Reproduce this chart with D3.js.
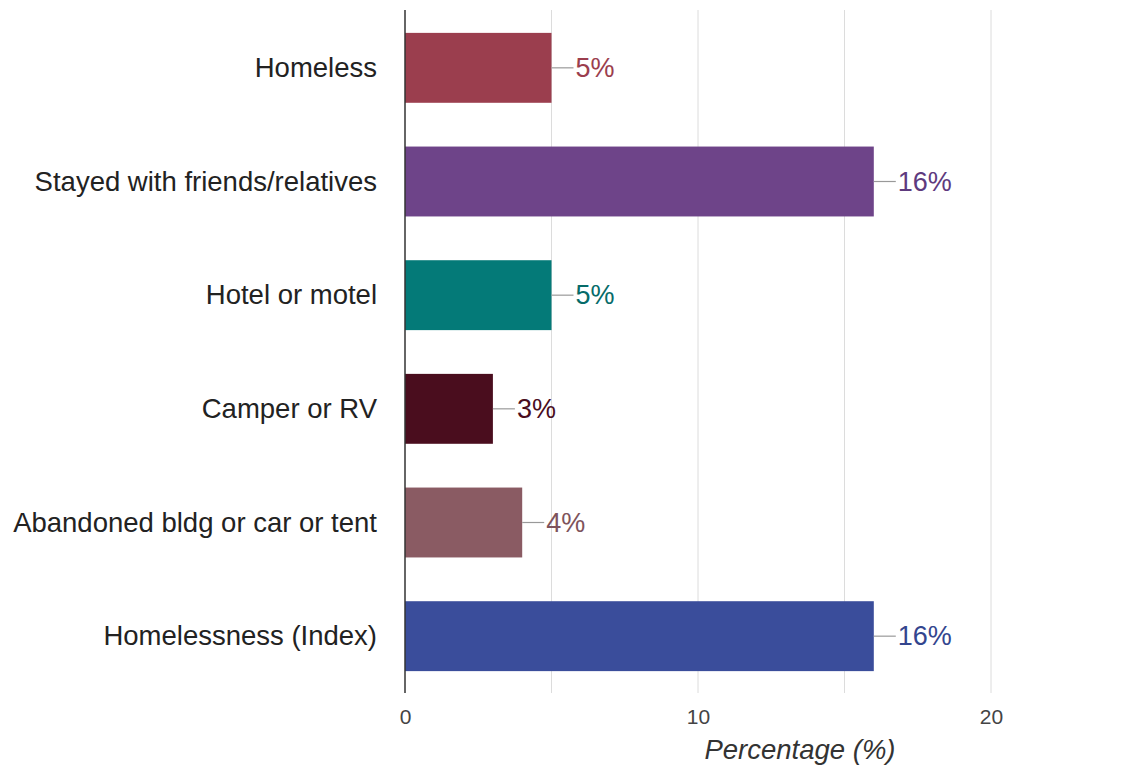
<!DOCTYPE html>
<html>
<head>
<meta charset="utf-8">
<script src="https://cdn.jsdelivr.net/npm/d3@7"></script>
<style>
  body { margin: 0; background: #fff; }
  text { font-family: "Liberation Sans", Arial, sans-serif; }
</style>
</head>
<body>
<div id="chart"></div>
<script>
const categories = ["Homeless", "Stayed with friends/relatives", "Hotel or motel", "Camper or RV",
                    "Abandoned bldg or car or tent", "Homelessness (Index)"];
const values = [5, 16, 5, 3, 4, 16];
const colors = ["#9b3e4e", "#6e4489", "#047a78", "#4a0d1e", "#8a5b63", "#3a4d9b"];
const labelColors = ["#9b3e4e", "#5e3a7e", "#066b69", "#4a0d1e", "#7e535b", "#33458e"];
const xTicks = [0, 10, 20];
const gridTicks = [5, 10, 15, 20];

const W = 1129, H = 769;
const svg = d3.select("#chart").append("svg")
    .attr("width", W)
    .attr("height", H);

const x = d3.scaleLinear().domain([0, 20]).range([405, 991]);
const y = d3.scaleBand().domain(categories).range([11, 693])
    .paddingInner(0.385).paddingOuter(0.1925);
const cy = i => y(categories[i]) + y.bandwidth() / 2;

// gridlines
svg.append("g")
  .selectAll("line")
  .data(gridTicks)
  .join("line")
    .attr("x1", d => x(d)).attr("x2", d => x(d))
    .attr("y1", 10).attr("y2", 693)
    .attr("stroke", "#dcdcdc")
    .attr("stroke-width", 1);

// bars
svg.append("g")
  .selectAll("rect")
  .data(values)
  .join("rect")
    .attr("x", x(0))
    .attr("y", (d, i) => y(categories[i]))
    .attr("width", d => x(d) - x(0))
    .attr("height", y.bandwidth())
    .attr("fill", (d, i) => colors[i]);

// leader lines + value labels
const lab = svg.append("g");
lab.selectAll("line")
  .data(values)
  .join("line")
    .attr("x1", d => x(d)).attr("x2", d => x(d) + 22)
    .attr("y1", (d, i) => cy(i))
    .attr("y2", (d, i) => cy(i))
    .attr("stroke", "#999")
    .attr("stroke-width", 1.2);

lab.selectAll("text")
  .data(values)
  .join("text")
    .attr("x", d => x(d) + 24)
    .attr("y", (d, i) => cy(i) + 9)
    .attr("font-size", 27)
    .attr("fill", (d, i) => labelColors[i])
    .text(d => d + "%");

// category labels
svg.append("g")
  .selectAll("text")
  .data(categories)
  .join("text")
    .attr("x", 377)
    .attr("y", (d, i) => cy(i) + 9)
    .attr("text-anchor", "end")
    .attr("font-size", 27.5)
    .attr("fill", "#222")
    .text(d => d);

// y axis line
svg.append("line")
    .attr("x1", x(0)).attr("x2", x(0))
    .attr("y1", 10).attr("y2", 693)
    .attr("stroke", "#333")
    .attr("stroke-width", 1.5);

// x axis tick labels
const xAxis = d3.axisBottom(x).tickValues(xTicks).tickSize(0).tickPadding(0);
const gx = svg.append("g")
    .attr("transform", "translate(0,724)")
    .call(xAxis);
gx.select(".domain").remove();
gx.selectAll("text")
    .attr("dy", null)
    .attr("font-size", 21)
    .attr("fill", "#444")
    .style("font-family", "'Liberation Sans', Arial, sans-serif");

svg.append("text")
    .attr("x", 800)
    .attr("y", 759)
    .attr("text-anchor", "middle")
    .attr("font-size", 27.5)
    .attr("font-style", "italic")
    .attr("fill", "#333")
    .text("Percentage (%)");
</script>
</body>
</html>
